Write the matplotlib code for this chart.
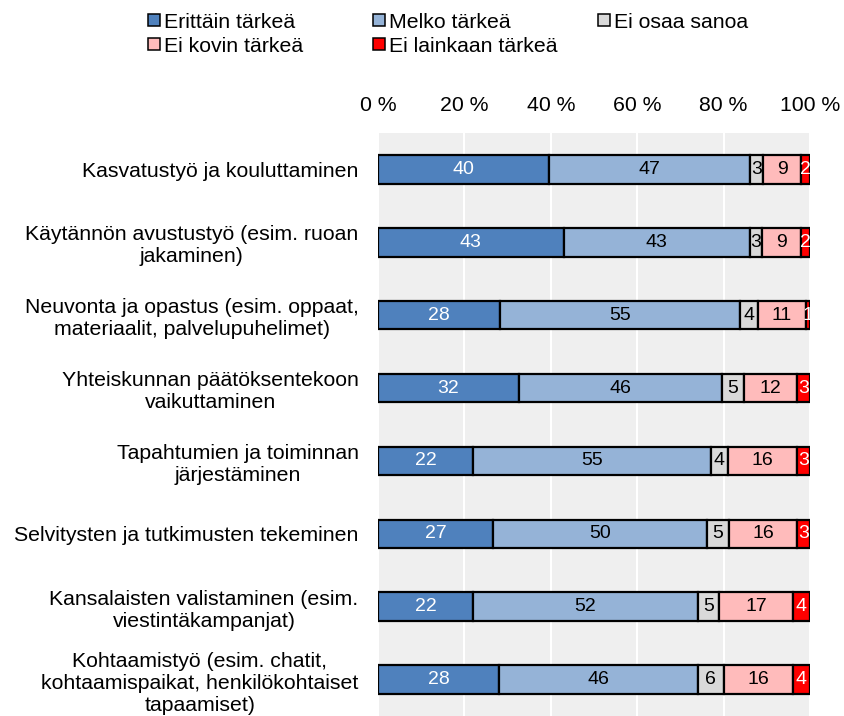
import numpy as np
import matplotlib.pyplot as plt
from matplotlib.patches import Rectangle

plt.rcParams['font.family'] = ['Liberation Sans', 'DejaVu Sans']

# data
categories = [
    'Kasvatustyö ja kouluttaminen',
    'Käytännön avustustyö (esim. ruoan\njakaminen)',
    'Neuvonta ja opastus (esim. oppaat,\nmateriaalit, palvelupuhelimet)',
    'Yhteiskunnan päätöksentekoon\nvaikuttaminen',
    'Tapahtumien ja toiminnan\njärjestäminen',
    'Selvitysten ja tutkimusten tekeminen',
    'Kansalaisten valistaminen (esim.\nviestintäkampanjat)',
    'Kohtaamistyö (esim. chatit,\nkohtaamispaikat, henkilökohtaiset\ntapaamiset)',
]
series = ['Erittäin tärkeä', 'Melko tärkeä', 'Ei osaa sanoa', 'Ei kovin tärkeä', 'Ei lainkaan tärkeä']
erittain = [40, 43, 28, 32, 22, 27, 22, 28]
melko = [47, 43, 55, 46, 55, 50, 52, 46]
ei_osaa = [3, 3, 4, 5, 4, 5, 5, 6]
ei_kovin = [9, 9, 11, 12, 16, 16, 17, 16]
ei_lainkaan = [2, 2, 1, 3, 3, 3, 4, 4]

colors = ['#4F81BD', '#95B3D7', '#D9D9D9', '#FFBBBB', '#FF0000']
text_colors = ['white', 'black', 'black', 'black', 'white']

vals = np.array([erittain, melko, ei_osaa, ei_kovin, ei_lainkaan], dtype=float)
shares = vals / vals.sum(axis=0) * 100   # bars fill to 100 %

W, H = 844, 716
fig = plt.figure(figsize=(W / 100, H / 100), dpi=100)
ax = fig.add_axes([378 / W, 0, 432 / W, 583 / H])
ax.set_facecolor('#EFEFEF')

y = np.arange(len(categories))
left = np.zeros(len(categories))
for i in range(len(series)):
    ax.barh(y, shares[i], left=left, height=0.39, color=colors[i],
            edgecolor='black', linewidth=1.6, zorder=3)
    for j in range(len(categories)):
        ax.text(left[j] + shares[i][j] / 2, y[j], str(int(vals[i][j])),
                ha='center', va='center', fontsize=14, color=text_colors[i], zorder=4)
    left += shares[i]

ax.set_xlim(0, 100)
ax.set_ylim(len(categories) - 0.5, -0.5)
ax.set_xticks([0, 20, 40, 60, 80, 100])
ax.set_xticklabels(['0 %', '20 %', '40 %', '60 %', '80 %', '100 %'], fontsize=15.3)
ax.xaxis.tick_top()
ax.tick_params(axis='x', length=0, pad=13)
ax.set_yticks(y)
ax.set_yticklabels(categories, fontsize=15.3, multialignment='center')
ax.tick_params(axis='y', length=0, pad=14)
ax.grid(axis='x', color='white', linewidth=1.5, zorder=0)
ax.set_axisbelow(True)
for s in ax.spines.values():
    s.set_visible(False)

# legend laid out like the original: 3 equal columns, filled row by row
col_x = [148, 373, 598]
row_y = [20, 44]
for k, name in enumerate(series):
    cx = col_x[k % 3]
    cy = row_y[k // 3]
    fig.add_artist(Rectangle(((cx) / W, 1 - (cy + 6) / H), 12 / W, 12 / H,
                             transform=fig.transFigure, facecolor=colors[k],
                             edgecolor='black', linewidth=1.1))
    fig.text((cx + 16) / W, 1 - cy / H, name, fontsize=15.3, ha='left', va='center_baseline')

fig.savefig('out.png', dpi=100)
